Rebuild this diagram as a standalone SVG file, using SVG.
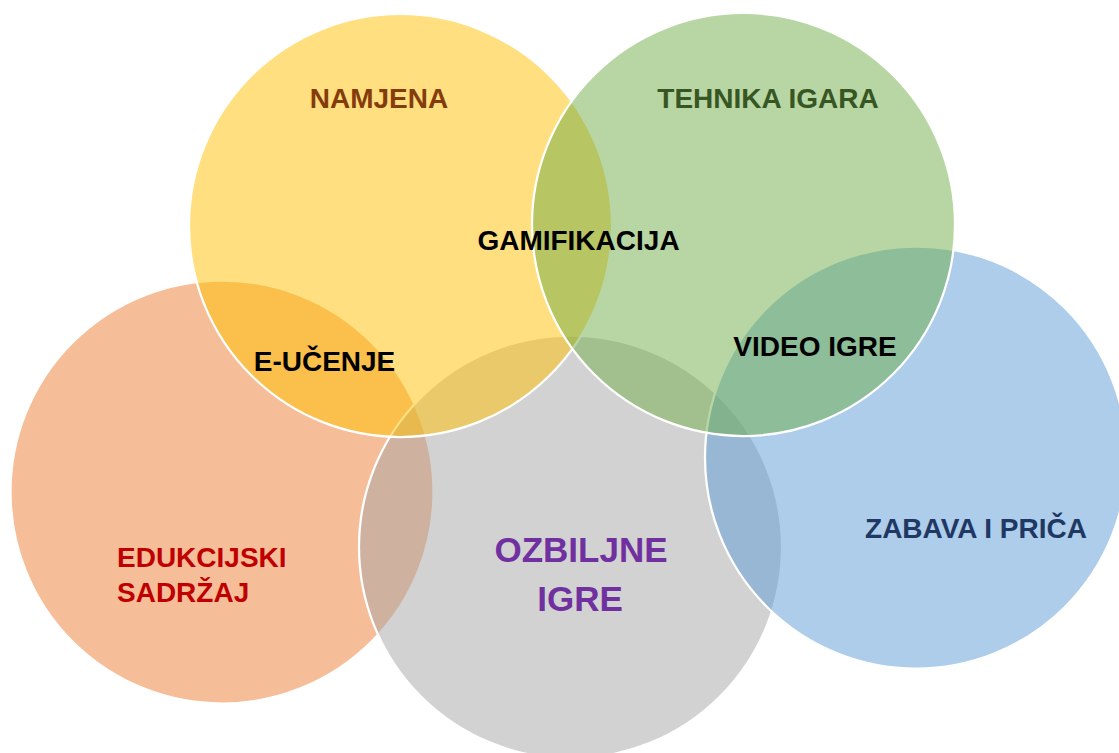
<svg xmlns="http://www.w3.org/2000/svg" width="1119" height="753" viewBox="0 0 1119 753">
<style>
.c{fill-opacity:0.5;stroke:#FFFFFF;stroke-width:2.25}
.t{font-family:"Liberation Sans",Arial,sans-serif;font-weight:bold;font-size:28px;text-anchor:middle}
.big{font-size:35px}
</style>
<rect width="1119" height="753" fill="#FFFFFF"/>
<g id="edukcijski">
<circle class="c" cx="222" cy="492" r="211.5" fill="#ED7D31"/>
</g>
<g id="ozbiljne-igre">
<circle class="c" cx="570.5" cy="547" r="211.5" fill="#A5A5A5"/>
</g>
<g id="zabava">
<circle class="c" cx="916" cy="457.5" r="211" fill="#5B9BD5"/>
</g>
<g id="namjena">
<circle class="c" cx="400.5" cy="225.5" r="211.5" fill="#FFC000"/>
</g>
<g id="tehnika">
<circle class="c" cx="743.5" cy="224.5" r="211.5" fill="#70AD47"/>
</g>
<g id="connectors"></g>
<g id="labels">
<text class="t" x="379" y="108" fill="#843C0C">NAMJENA</text>
<text class="t" x="768" y="108" fill="#375623">TEHNIKA IGARA</text>
<text class="t" x="578.5" y="250" fill="#000000">GAMIFIKACIJA</text>
<text class="t" x="324.5" y="371" fill="#000000">E-UČENJE</text>
<text class="t" x="815" y="356" fill="#000000">VIDEO IGRE</text>
<text class="t" x="117" y="567" fill="#C00000" style="text-anchor:start">EDUKCIJSKI</text>
<text class="t" x="117" y="602" fill="#C00000" style="text-anchor:start">SADRŽAJ</text>
<text class="t big" x="581" y="562" fill="#7030A0">OZBILJNE</text>
<text class="t big" x="580" y="611" fill="#7030A0">IGRE</text>
<text class="t" x="976" y="538" fill="#1F3864">ZABAVA I PRIČA</text>
</g>
</svg>
